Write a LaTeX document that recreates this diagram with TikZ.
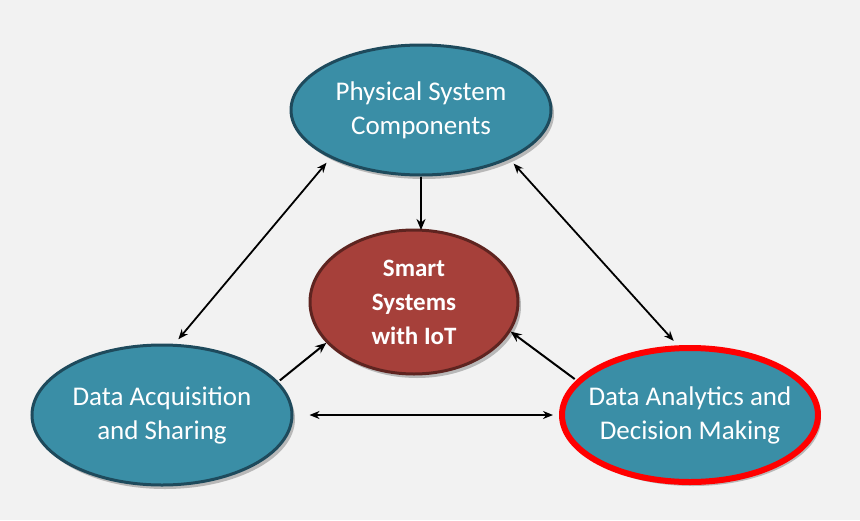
\documentclass[tikz,border=0pt]{standalone}
\usepackage{fontspec}
\setmainfont{Carlito}
\usetikzlibrary{shapes.geometric,shadows,arrows.meta}
\definecolor{bg}{HTML}{F2F2F2}
\definecolor{teal}{HTML}{3A8EA6}
\definecolor{tealdark}{HTML}{1E4A5C}
\definecolor{brick}{HTML}{A6403A}
\definecolor{brickdark}{HTML}{5E2420}
\begin{document}
\begin{tikzpicture}[x=1pt,y=-1pt,
  ell/.style={ellipse,draw=tealdark,line width=3pt,fill=teal,text=white,
    font=\fontsize{27}{34}\selectfont,align=center,inner sep=0pt,
    drop shadow={shadow xshift=3pt,shadow yshift=-4pt,opacity=0.5}},
  arr/.style={-{Stealth[length=11pt,width=9pt]},line width=2pt},
  darr/.style={{Stealth[length=10pt,width=8pt]}-{Stealth[length=10pt,width=8pt]},line width=1.8pt}]
\fill[bg] (0,0) rectangle (860,520);
\node[ell,minimum width=260pt,minimum height=130pt] (top) at (421,110) {Physical System\\Components};
\node[ell,minimum width=208pt,minimum height=144pt,fill=brick,draw=brickdark,font=\bfseries\fontsize{25}{34}\selectfont] (mid) at (414,302) {Smart\\Systems\\with IoT};
\node[ell,minimum width=260pt,minimum height=140pt] (left) at (162,415) {Data Acquisition\\and Sharing};
\node[ell,minimum width=256pt,minimum height=134pt,inner xsep=-20pt,draw=red,line width=6pt] (right) at (690,415) {Data Analytics and\\Decision Making};
\coordinate (midtop) at (421,230);
\draw[arr] (top.south) -- (midtop);
\draw[arr,shorten <=2pt] (left.16) -- (mid.205);
\draw[arr,shorten <=2pt] (right.163) -- (mid.343);
\draw[darr,shorten <=6pt,shorten >=6pt] (left.80) -- (top.208);
\draw[darr,shorten <=6pt,shorten >=6pt] (top.331) -- (right.100);
\draw[darr,shorten <=16pt,shorten >=6pt] (left.east) -- (right.west);
\end{tikzpicture}
\end{document}
